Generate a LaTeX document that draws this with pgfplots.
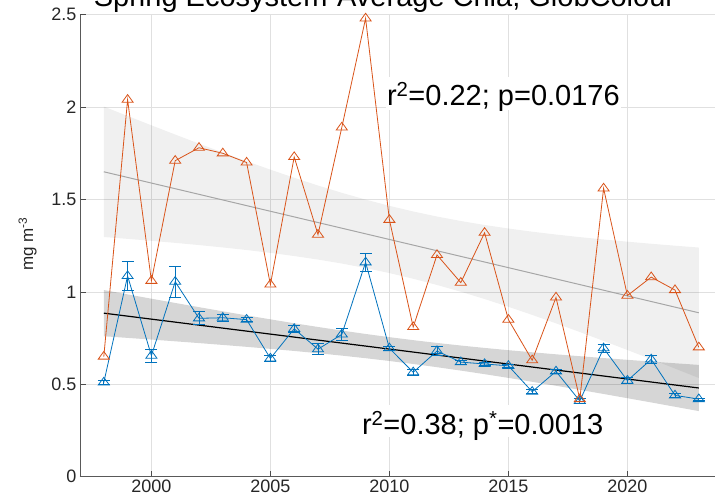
\documentclass[border=0pt]{standalone}
\usepackage{pgfplots}
\pgfplotsset{compat=1.18}
\usepackage{fontspec}
\setmainfont{Liberation Sans}
\definecolor{morange}{HTML}{D95319}
\definecolor{mblue}{HTML}{0072BD}
\begin{document}
\begin{tikzpicture}
\begin{axis}[
  at={(0,0)}, anchor=south west,
  scale only axis, width=642.6pt, height=462pt,
  xmin=1997, xmax=2024, ymin=0, ymax=2.5,
  axis x line*=bottom, axis y line*=left,
  xtick={2000,2005,2010,2015,2020},
  xticklabels={2000,2005,2010,2015,2020},
  ytick={0,0.5,1,1.5,2,2.5},
  yticklabels={0,0.5,1,1.5,2,2.5},
  /pgf/number format/assume math mode=true,
  tick align=inside,
  grid=major,
  major grid style={color=black!12, line width=0.6pt},
  tick style={color=black!70, line width=0.6pt},
  major tick length=6pt,
  axis line style={color=black!65, line width=0.7pt, -},
  tick label style={font=\fontsize{18}{20}\selectfont, color=black!85},
  ylabel={mg m\textsuperscript{-3}},
  ylabel style={font=\fontsize{17}{20}\selectfont, at={(axis description cs:-0.062,0.504)}, anchor=south, color=black!85},
  clip=false,
]
% light confidence band (orange series fit)
\addplot[draw=none, fill=black, fill opacity=0.06] coordinates {
(1998,2.003)(1999,1.952)(2000,1.9015)(2001,1.8515)(2002,1.8024)(2003,1.7542)(2004,1.7072)(2005,1.6616)(2006,1.6176)(2007,1.5757)(2008,1.5362)(2009,1.4995)(2010,1.4658)(2011,1.4352)(2012,1.4079)(2013,1.3836)(2014,1.3621)(2015,1.3430)(2016,1.3258)(2017,1.3104)(2018,1.2964)(2019,1.2836)(2020,1.2717)(2021,1.2605)(2022,1.2500)(2023,1.2400)
(2023,0.5340)(2022,0.5850)(2021,0.6355)(2020,0.6855)(2019,0.7346)(2018,0.7828)(2017,0.8298)(2016,0.8754)(2015,0.9194)(2014,0.9613)(2013,1.0008)(2012,1.0375)(2011,1.0712)(2010,1.1018)(2009,1.1291)(2008,1.1534)(2007,1.1749)(2006,1.1940)(2005,1.2112)(2004,1.2266)(2003,1.2406)(2002,1.2534)(2001,1.2653)(2000,1.2765)(1999,1.2870)(1998,1.2970)
} -- cycle;
% dark confidence band (blue series fit)
\addplot[draw=none, fill=black, fill opacity=0.16] coordinates {
(1998,1.010)(1999,0.9865)(2000,0.9632)(2001,0.9402)(2002,0.9174)(2003,0.8950)(2004,0.8729)(2005,0.8514)(2006,0.8304)(2007,0.8102)(2008,0.7908)(2009,0.7724)(2010,0.7551)(2011,0.7389)(2012,0.7238)(2013,0.7098)(2014,0.6968)(2015,0.6846)(2016,0.6732)(2017,0.6623)(2018,0.6520)(2019,0.6420)(2020,0.6324)(2021,0.6230)(2022,0.6139)(2023,0.6050)
(2023,0.3550)(2022,0.3785)(2021,0.4018)(2020,0.4248)(2019,0.4476)(2018,0.4700)(2017,0.4921)(2016,0.5136)(2015,0.5346)(2014,0.5548)(2013,0.5742)(2012,0.5926)(2011,0.6099)(2010,0.6261)(2009,0.6412)(2008,0.6552)(2007,0.6682)(2006,0.6804)(2005,0.6918)(2004,0.7027)(2003,0.7130)(2002,0.7230)(2001,0.7326)(2000,0.7420)(1999,0.7511)(1998,0.7600)
} -- cycle;
% regression lines
\addplot[color=black!35, line width=1pt] coordinates {(1998,1.650)(2023,0.887)};
\addplot[color=black, line width=1.2pt] coordinates {(1998,0.885)(2023,0.480)};
% blue series with error bars
\addplot[color=mblue, line width=0.8pt, mark=triangle, mark size=6.4pt, mark options={solid, yscale=0.8},
  error bars/.cd, y dir=both, y explicit,
  error bar style={line width=0.8pt},
  error mark=|,
  error mark options={mark size=6pt, line width=0.8pt, color=mblue}]
  table[x=x, y=y, y error=e] {
x y e
1998 0.510 0.010
1999 1.086 0.080
2000 0.655 0.035
2001 1.055 0.085
2002 0.857 0.035
2003 0.860 0.020
2004 0.850 0.010
2005 0.640 0.015
2006 0.800 0.020
2007 0.690 0.030
2008 0.770 0.030
2009 1.160 0.050
2010 0.695 0.010
2011 0.565 0.015
2012 0.680 0.025
2013 0.620 0.010
2014 0.610 0.010
2015 0.600 0.010
2016 0.460 0.010
2017 0.570 0.010
2018 0.410 0.015
2019 0.695 0.020
2020 0.520 0.015
2021 0.635 0.020
2022 0.440 0.010
2023 0.420 0.005
};
% orange series
\addplot[color=morange, line width=0.8pt, mark=triangle, mark size=6.4pt, mark options={solid, yscale=0.8}]
  table[x=x, y=y] {
x y
1998 0.65
1999 2.04
2000 1.06
2001 1.71
2002 1.78
2003 1.75
2004 1.70
2005 1.04
2006 1.73
2007 1.31
2008 1.89
2009 2.48
2010 1.39
2011 0.81
2012 1.20
2013 1.05
2014 1.32
2015 0.85
2016 0.63
2017 0.97
2018 0.42
2019 1.56
2020 0.98
2021 1.08
2022 1.01
2023 0.70
};
\node[anchor=base west, fill=white, inner xsep=1pt, inner ysep=0pt, text height=29pt, text depth=4pt,
  font=\fontsize{29}{34}\selectfont] at (axis cs:2009.85,2.006)
  {r\textsuperscript{2}=0.22; p=0.0176\hspace{38pt}};
\node[anchor=base west, fill=white, inner xsep=1pt, inner ysep=0pt, text height=30pt, text depth=2pt,
  font=\fontsize{29}{34}\selectfont] at (axis cs:2008.8,0.226)
  {r\textsuperscript{2}=0.38; p\textsuperscript{*}=0.0013\hspace{40pt}};
\end{axis}
\node[anchor=base, font=\fontsize{29}{34}\selectfont] at (304.5pt,469.7pt) {Spring Ecosystem-Average Chla, GlobColour};
\pgfresetboundingbox
\useasboundingbox (-80pt,-23.3pt) rectangle (635pt,476.7pt);
\end{tikzpicture}
\end{document}
